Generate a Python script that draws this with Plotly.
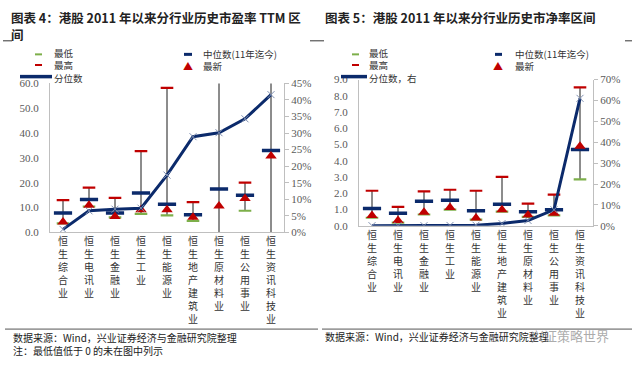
import plotly.graph_objects as go

cats = ["恒生综合业", "恒生电讯业", "恒生金融业", "恒生工业", "恒生能源业",
        "恒生地产建筑业", "恒生原材料业", "恒生公用事业", "恒生资讯科技业"]

# Chart 4: PE TTM
pe_max = [13.0, 18.0, 13.9, 32.7, 58.2, 12.2, 70.0, 20.0, 70.0]
pe_min = [3.6, 10.4, 6.0, 7.4, 6.8, 4.6, None, 8.7, None]
pe_median = [7.8, 13.2, 7.8, 15.8, 11.3, 7.1, 17.5, 14.9, 33.0]
pe_latest = [4.2, 10.9, 6.4, 9.1, 9.1, 6.1, 10.6, 13.6, 30.8]
pe_pct = [0.9, 6.5, 7.0, 7.3, 17.3, 28.9, 30.1, 34.3, 41.6]

# Chart 5: PB
pb_max = [2.16, 1.17, 2.12, 2.22, 2.16, 3.01, 1.37, 1.92, 8.52]
pb_min = [0.50, 0.20, 0.70, 1.00, 0.38, 0.88, 0.55, 0.65, 2.86]
pb_median = [1.07, 0.77, 1.52, 1.58, 0.93, 1.33, 0.87, 0.99, 4.70]
pb_latest = [0.63, 0.33, 0.83, 1.13, 0.49, 0.99, 0.67, 0.77, 4.90]
pb_pct = [0.1, 0.1, 0.1, 0.2, 0.3, 1.1, 2.6, 7.7, 61.0]

NAVY = "#0B2A6B"
RED = "#C00000"
GREEN = "#7DAF4A"
AXC = "#BFBFBF"
TICKC = "#595959"
CJK = "Noto Sans CJK SC"

x = list(range(len(cats)))
ticktext = ["<br>".join(list(c)) for c in cats]

fig = go.Figure()


def add_chart(xa, ya, ya2, vmax, vmin, vmed, vlat, vpct, ylo):
    wx, wy = [], []
    for i in x:
        lo = vmin[i] if vmin[i] is not None else ylo - 5
        wx += [i, i, None]
        wy += [lo, vmax[i], None]
    fig.add_trace(go.Scatter(x=wx, y=wy, mode="lines", xaxis=xa, yaxis=ya,
                             line=dict(color="#1a1a1a", width=1), showlegend=False,
                             hoverinfo="skip"))
    fig.add_trace(go.Scatter(x=x, y=vmax, mode="markers", xaxis=xa, yaxis=ya,
                             marker=dict(symbol="line-ew", size=9,
                                         line=dict(color=RED, width=2.2)),
                             showlegend=False))
    fig.add_trace(go.Scatter(x=x, y=vmin, mode="markers", xaxis=xa, yaxis=ya,
                             marker=dict(symbol="line-ew", size=9,
                                         line=dict(color=GREEN, width=2.2)),
                             showlegend=False))
    fig.add_trace(go.Scatter(x=x, y=vmed, mode="markers", xaxis=xa, yaxis=ya,
                             marker=dict(symbol="line-ew", size=13,
                                         line=dict(color=NAVY, width=3.5)),
                             showlegend=False))
    fig.add_trace(go.Scatter(x=x, y=vlat, mode="markers", xaxis=xa, yaxis=ya,
                             marker=dict(symbol="triangle-up", size=10, color=RED),
                             showlegend=False))
    fig.add_trace(go.Scatter(x=x, y=vpct, mode="lines+markers", xaxis=xa, yaxis=ya2,
                             line=dict(color=NAVY, width=3),
                             marker=dict(symbol="x-thin", size=7,
                                         line=dict(color="#7F8FB0", width=1)),
                             showlegend=False))


add_chart("x", "y", "y2", pe_max, pe_min, pe_median, pe_latest, pe_pct, 0)
add_chart("x2", "y3", "y4", pb_max, pb_min, pb_median, pb_latest, pb_pct, 0)

xcommon = dict(range=[-0.5, 8.5], tickvals=x, ticktext=ticktext, showline=True,
               linecolor=AXC, linewidth=1, ticks="", showgrid=False, zeroline=False,
               tickfont=dict(family=CJK, size=10, color="#333333"), tickangle=0)
ycommon = dict(showline=True, linecolor=AXC, linewidth=1, showgrid=False,
               zeroline=False, tickfont=dict(family="Liberation Serif", size=11, color=TICKC))

fig.update_layout(
    width=640, height=367, margin=dict(l=0, r=0, t=0, b=0),
    paper_bgcolor="white", plot_bgcolor="white", showlegend=False,
    xaxis=dict(domain=[50/640, 284/640], anchor="y", **xcommon),
    yaxis=dict(domain=[1-234/367, 1-80/367], range=[0, 60], dtick=10,
               tickformat=".1f", ticks="", ticklabelstandoff=8, **ycommon),
    yaxis2=dict(overlaying="y", side="right", anchor="x", range=[0, 45], dtick=5,
                ticksuffix="%", ticks="outside", ticklen=4, tickcolor=AXC, **ycommon),
    xaxis2=dict(domain=[359/640, 593/640], anchor="y3", **xcommon),
    yaxis3=dict(domain=[1-227.3/367, 1-76/367], anchor="x2", range=[0, 9], dtick=1,
                tickformat=".1f", ticks="", ticklabelstandoff=8, **ycommon),
    yaxis4=dict(overlaying="y3", side="right", anchor="x2", range=[0, 70], dtick=10,
                ticksuffix="%", ticks="outside", ticklen=4, tickcolor=AXC, **ycommon),
)

annots = []
shapes = []


def px(xp):
    return xp / 640


def py(yp):
    return 1 - yp / 367


def text(xp, yp, s, size=10, color="#333333", xanchor="left"):
    annots.append(dict(x=px(xp), y=py(yp), xref="paper", yref="paper", text=s,
                       showarrow=False, xanchor=xanchor, yanchor="middle", align="left",
                       borderpad=0,
                       font=dict(family=CJK, size=size, color=color)))


def hline(x0, x1, yp, color, width):
    shapes.append(dict(type="line", xref="paper", yref="paper", x0=px(x0), x1=px(x1),
                       y0=py(yp), y1=py(yp), line=dict(color=color, width=width)))


# Titles
text(10, 12, "<b>图表 4：港股 2011 年以来分行业历史市盈率 TTM 区</b>", size=12.5, color="#222")
text(10, 29, "<b>间</b>", size=12.5, color="#222")
text(324, 12, "<b>图表 5：港股 2011 年以来分行业历史市净率区间</b>", size=12.5, color="#222")

# Top small dashes
hline(3, 12, 36, "#333", 1)
hline(310, 320, 36, "#333", 1)
hline(320, 324, 36, "#333", 1)
hline(625, 632, 36, "#333", 1)

# Legends chart 4
hline(35, 42, 50, GREEN, 2)
hline(35, 42, 61, RED, 2)
hline(20, 52, 73, NAVY, 3.5)
text(53, 61.5, "最低<br>最高<br>分位数", size=9.5)
hline(184, 192, 50, NAVY, 3)
text(188, 61, "▲", size=10, color=RED, xanchor="center")
text(202, 55.5, "中位数(11年迄今)<br>最新", size=9.5)

# Legends chart 5
hline(352, 359, 50, GREEN, 2)
hline(352, 359, 61, RED, 2)
hline(341, 367, 73, NAVY, 3.5)
text(368, 61.5, "最低<br>最高<br>分位数，右", size=9.5)
hline(495, 502, 50, NAVY, 3)
text(498, 61, "▲", size=10, color=RED, xanchor="center")
text(514, 55.5, "中位数(11年迄今)<br>最新", size=9.5)

# Bottom rules and sources
hline(5, 318, 334, "#555", 1)
hline(322, 632, 334, "#555", 1)
text(12, 349.5, "数据来源：Wind，兴业证券经济与金融研究院整理<br>注：最低值低于 0 的未在图中列示",
     size=10, color="#222")
text(324, 342, "数据来源：Wind，兴业证券经济与金融研究院整理", size=10, color="#222")
text(530, 341, "兴证策略世界", size=13, color="rgba(150,150,150,0.8)")

fig.update_layout(annotations=annots, shapes=shapes)
fig.write_html("out.html", config={"displayModeBar": False},
               post_script="document.body.style.margin='0';document.body.style.overflow='hidden';")
